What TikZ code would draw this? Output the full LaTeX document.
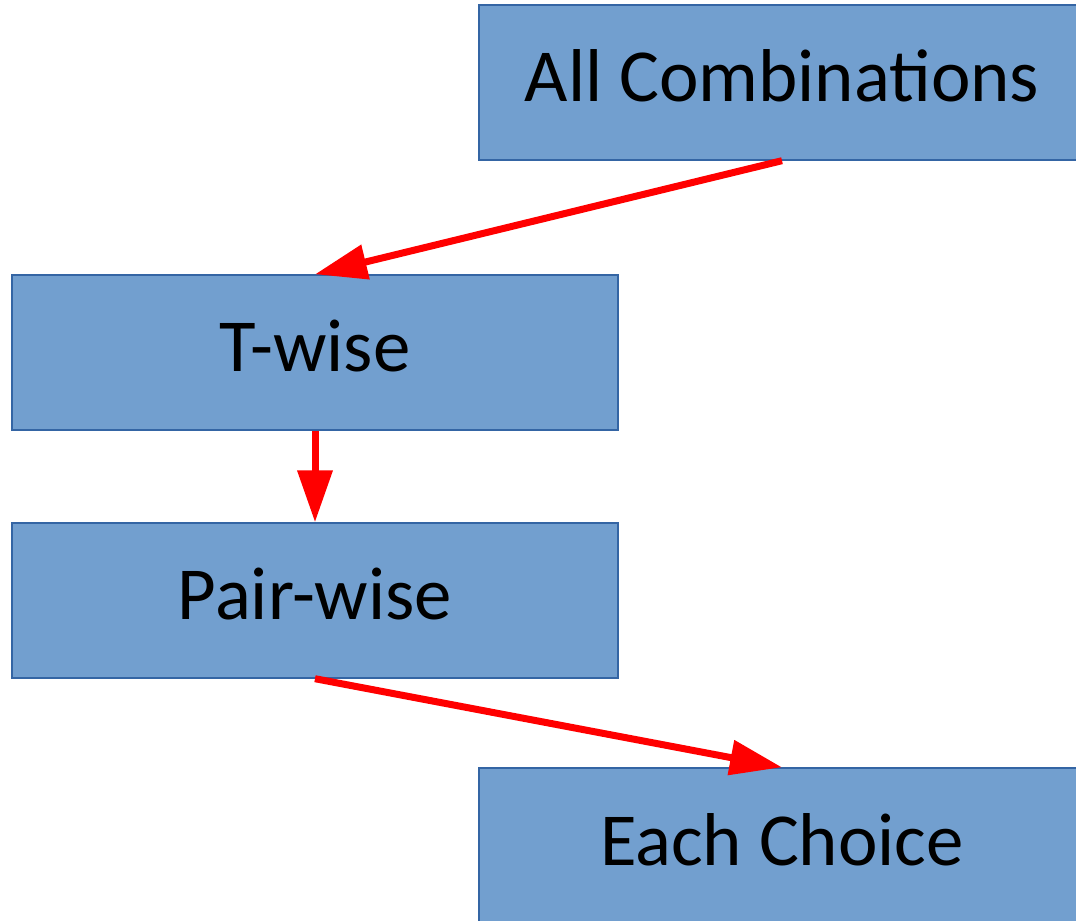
\documentclass[tikz,border=0pt]{standalone}
\usepackage{fontspec}
\setmainfont{Carlito}
\usepackage{tikz}
\usetikzlibrary{positioning,arrows.meta}
\definecolor{boxfill}{HTML}{729FCF}
\definecolor{boxline}{HTML}{3465A4}

\begin{document}
\begin{tikzpicture}[
    level/.style={draw=boxline, line width=0.4pt, fill=boxfill, minimum width=6.06cm, minimum height=1.55cm, inner sep=0pt, text height=0.6cm, text depth=0.21cm, font=\fontsize{21.3}{25}\selectfont},
    flow/.style={red, line width=0.07cm, -{Triangle[length=0.52cm,width=0.34cm]}}
]
    \useasboundingbox (0,0) rectangle (10.76,9.2);

    % Levels
    \node[level] (all) at (7.82,8.375) {All Combinations};
    \node[level] (twise) at (3.15,5.675) {T-wise};
    \node[level] (pair) at (3.15,3.195) {Pair-wise};
    \node[level] (each) at (7.82,0.745) {Each Choice};

    % Arrows
    \draw[flow] (all.south) -- (twise.north);
    \draw[flow] (twise.south) -- (pair.north);
    \draw[flow] (pair.south) -- (each.north);
\end{tikzpicture}
\end{document}
